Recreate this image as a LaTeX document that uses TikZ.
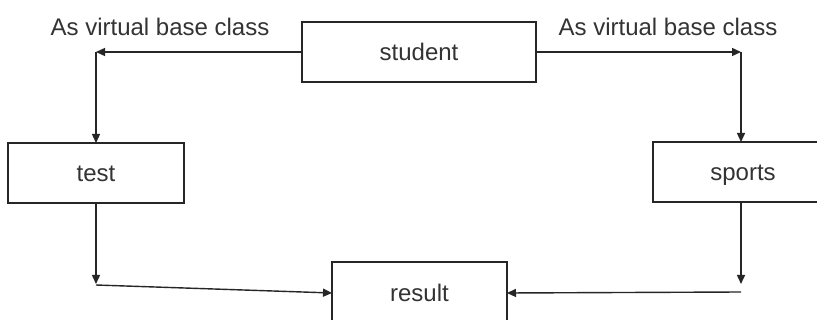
\documentclass[tikz,border=0pt]{standalone}
\usepackage{fontspec}
\setmainfont{Liberation Sans}
\usetikzlibrary{arrows.meta}
\definecolor{ink}{HTML}{262626}
\definecolor{txt}{HTML}{333333}
\begin{document}
\begin{tikzpicture}[x=1pt,y=-1pt,
  classbox/.style={draw=ink,line width=1.4pt,rectangle,inner sep=0pt,outer sep=0pt,
    text=txt,font=\fontsize{24}{28}\selectfont,text height=17pt,text depth=0pt},
  lbl/.style={text=txt,font=\fontsize{24}{28}\selectfont,inner sep=0pt},
  link/.style={draw=ink,line width=1.4pt,-{Triangle[length=9pt,width=8pt]}}]
  \fill[white] (0,0) rectangle (817,320);
  \clip (0,0) rectangle (817,320);
  % classes
  \node[classbox,minimum width=234pt,minimum height=60pt] (student) at (419,52) {student};
  \node[classbox,minimum width=176pt,minimum height=60pt] (test) at (96,173) {test};
  \node[classbox,minimum width=180pt,minimum height=60pt] (sports) at (743,172) {sports\hspace{5pt}};
  \node[classbox,minimum width=175pt,minimum height=62pt] (result) at (419.5,293) {result};
  % captions
  \node[lbl] (capL) at (160,27) {As virtual base class};
  \node[lbl] (capR) at (668,27) {As virtual base class};
  % corner points
  \coordinate (cL) at (96,52);
  \coordinate (cR) at (741,52);
  \coordinate (dL) at (96,284);
  \coordinate (eL) at (96,285);
  \coordinate (dR) at (741,284);
  \coordinate (eR) at (741,292);
  % inheritance links
  \draw[link] (student.west) -- (cL);
  \draw[link] (cL) -- (test.north);
  \draw[link] (student.east) -- (cR);
  \draw[link] (cR) -- (cR |- sports.north);
  \draw[link] (test.south) -- (dL);
  \draw[link] (eL) -- (result.west);
  \draw[link] (dR |- sports.south) -- (dR);
  \draw[link] (eR) -- (result.east);
\end{tikzpicture}
\end{document}
